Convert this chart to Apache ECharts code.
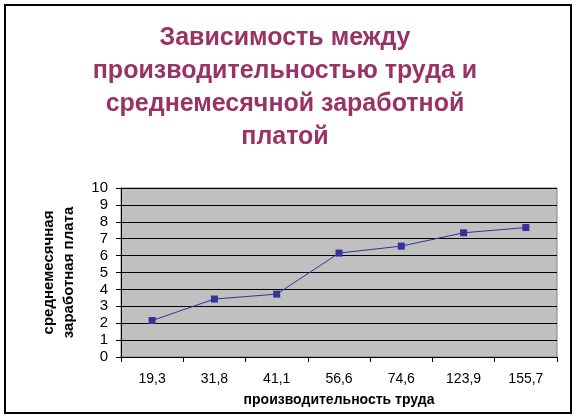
<!DOCTYPE html>
<html>
<head>
<meta charset="utf-8">
<script src="https://cdn.jsdelivr.net/npm/echarts@6/dist/echarts.min.js"></script>
<style>
  html, body { margin: 0; padding: 0; background: #fff; }
  #chart { width: 578px; height: 419px; }
</style>
</head>
<body>
<div id="chart"></div>
<script>
// производительность труда (категории оси X)
var productivity = ['19,3', '31,8', '41,1', '56,6', '74,6', '123,9', '155,7'];
// среднемесячная заработная плата
var salary = [2.16, 3.43, 3.72, 6.15, 6.56, 7.35, 7.66];

var font = '"Liberation Sans", Arial, sans-serif';
var chart = echarts.init(document.getElementById('chart'));

var option = {
  backgroundColor: '#fff',
  animation: false,
  title: {
    text: 'Зависимость между\nпроизводительностью труда и\nсреднемесячной заработной\nплатой',
    left: 285,
    top: 22,
    padding: 0,
    textAlign: 'center',
    textStyle: {
      fontFamily: font,
      fontSize: 25,
      fontWeight: 'bold',
      color: '#993366',
      lineHeight: 33
    }
  },
  graphic: [{
    type: 'rect',
    shape: { x: 5, y: 5, width: 566, height: 408 },
    style: { fill: 'none', stroke: '#000', lineWidth: 2 },
    silent: true
  }],
  grid: {
    left: 121,
    right: 21,
    top: 188,
    bottom: 62,
    show: true,
    backgroundColor: '#C0C0C0',
    borderColor: '#808080',
    borderWidth: 1
  },
  xAxis: {
    type: 'category',
    data: productivity,
    boundaryGap: true,
    name: 'производительность труда',
    nameLocation: 'middle',
    nameGap: 36,
    nameTextStyle: { fontFamily: font, fontSize: 14, fontWeight: 'bold', color: '#000' },
    axisLine: { lineStyle: { color: '#000', width: 1 } },
    axisTick: { show: true, length: 5, interval: 0, lineStyle: { color: '#000' } },
    axisLabel: { fontFamily: font, fontSize: 14, color: '#000', margin: 15, interval: 0 },
    splitLine: { show: false }
  },
  yAxis: {
    type: 'value',
    min: 0,
    max: 10,
    interval: 1,
    name: 'среднемесячная\nзаработная плата',
    nameLocation: 'middle',
    nameRotate: 90,
    nameGap: 42,
    nameTextStyle: { fontFamily: font, fontSize: 15, fontWeight: 'bold', color: '#000', lineHeight: 20 },
    axisLine: { show: true, lineStyle: { color: '#000', width: 1 } },
    axisTick: { show: true, length: 5, lineStyle: { color: '#000' } },
    axisLabel: { fontFamily: font, fontSize: 15, color: '#000', margin: 13 },
    splitLine: { show: true, lineStyle: { color: '#000', width: 1 } }
  },
  series: [{
    type: 'line',
    data: salary,
    symbol: 'rect',
    symbolSize: 7,
    lineStyle: { color: '#333399', width: 1 },
    itemStyle: { color: '#333399' }
  }]
};

chart.setOption(option);
</script>
</body>
</html>
